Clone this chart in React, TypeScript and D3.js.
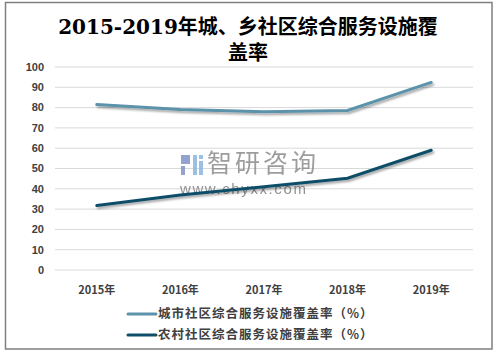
import React from "react";
import * as d3 from "d3";

const years = ["2015年", "2016年", "2017年", "2018年", "2019年"];
const cityRate = [81.5, 79.1, 78.0, 78.6, 92.4];
const ruralRate = [31.8, 37.0, 41.0, 45.2, 59.0];
const yTicks = [0, 10, 20, 30, 40, 50, 60, 70, 80, 90, 100];
const seriesNames = ["城市社区综合服务设施覆盖率（%）", "农村社区综合服务设施覆盖率（%）"];
const colors = ["#5b93ab", "#0f4e68"];

const W = 497;
const H = 352;
const left = 55;
const right = 473;
const top = 67;
const bottom = 270;

export default function App() {
  const x = d3.scaleBand<string>().domain(years).range([left, right]);
  const y = d3.scaleLinear().domain([0, 100]).range([bottom, top]);
  const line = d3
    .line<number>()
    .x((_, i) => (x(years[i]) as number) + x.bandwidth() / 2)
    .y((d) => y(d));
  const series = [cityRate, ruralRate];

  return (
    <svg
      width={W}
      height={H}
      style={{ position: "absolute", left: 0, top: 0, background: "#fff" }}
      fontFamily="'Noto Sans CJK SC', sans-serif"
    >
      <defs>
        <filter id="shadow" x="-10%" y="-50%" width="120%" height="200%">
          <feDropShadow dx="1.5" dy="2" stdDeviation="1.2" floodColor="#000" floodOpacity="0.35" />
        </filter>
      </defs>
      <rect x={5.5} y={2.5} width={486.5} height={346.5} fill="#fff" stroke="#7f7f7f" strokeWidth={1.5} />

      <text x={248} y={34} textAnchor="middle" fontSize={20} fontWeight="bold" fill="#000"
        fontFamily="'DejaVu Serif', 'Noto Sans CJK SC', serif">
        2015-2019年城、乡社区综合服务设施覆
      </text>
      <text x={248} y={60} textAnchor="middle" fontSize={20} fontWeight="bold" fill="#000">
        盖率
      </text>

      {yTicks.map((t) => (
        <g key={t}>
          <line x1={left} x2={right} y1={y(t)} y2={y(t)} stroke="#d9d9d9" strokeWidth={1} />
          <text x={44} y={y(t)} dy="0.35em" textAnchor="end" fontSize={11} fontWeight="bold" fill="#404040"
            fontFamily="'Liberation Sans', Arial, sans-serif">
            {t}
          </text>
        </g>
      ))}

      {years.map((c) => (
        <text key={c} x={(x(c) as number) + x.bandwidth() / 2} y={290} dy="0.35em" textAnchor="middle"
          fontSize={11} fontWeight="bold" fill="#404040">
          {c}
        </text>
      ))}

      {/* watermark */}
      <g opacity={0.85}>
        <rect x={181} y={155} width={9} height={9} fill="#7f93c8" />
        <rect x={181} y={166} width={4} height={9} fill="#7f93c8" />
        <rect x={193} y={155} width={4} height={20} fill="#8ab6df" />
        <rect x={199} y={155} width={4} height={4} fill="#8ab6df" />
        <rect x={199} y={161} width={4} height={14} fill="#8ab6df" />
        <text x={207} y={172} fontSize={25} fill="#8c8c8c" letterSpacing={3}>智研咨询</text>
        <text x={180} y={194} fontSize={15} fill="#7f7f7f" fontFamily="'Liberation Sans', sans-serif" letterSpacing={1.6}>
          www.chyxx.com
        </text>
      </g>

      {series.map((s, i) => (
        <path key={i} d={line(s) ?? ""} fill="none" stroke={colors[i]} strokeWidth={3}
          strokeLinecap="round" filter="url(#shadow)" />
      ))}

      {seriesNames.map((n, i) => (
        <g key={n} transform={`translate(0, ${314 + i * 21})`}>
          <line x1={128} x2={156} y1={0} y2={0} stroke={colors[i]} strokeWidth={3} strokeLinecap="round" />
          <text x={158} y={0} dy="0.35em" fontSize={12.5} fontWeight="bold" fill="#404040" letterSpacing={1}>
            {n}
          </text>
        </g>
      ))}
    </svg>
  );
}
